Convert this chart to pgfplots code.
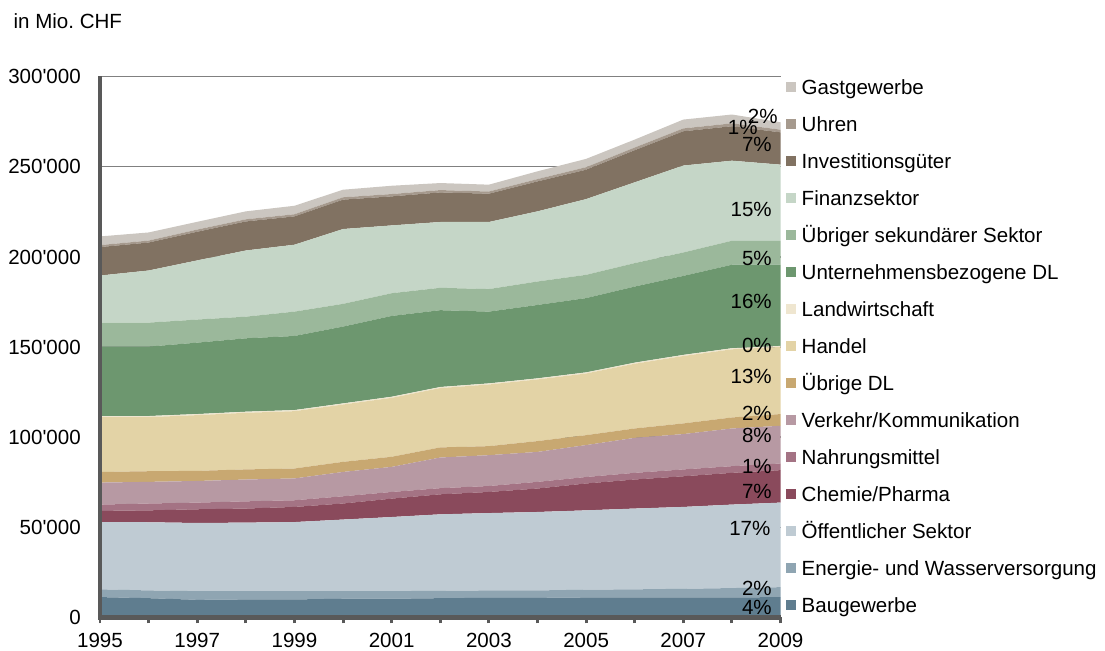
\documentclass[border=0pt]{standalone}
\usepackage{fontspec}
\setmainfont{Liberation Sans}[Ligatures=TeXOff]
\usepackage{pgfplots}
\usepackage{pgfplotstable}
\pgfplotsset{compat=1.18}

\newcommand{\fs}{\fontsize{15.4}{18}\selectfont}

\definecolor{axgray}{RGB}{89,89,89}
\definecolor{gridgray}{RGB}{128,128,128}
\definecolor{cBau}{RGB}{95,125,143}
\definecolor{cEner}{RGB}{143,165,178}
\definecolor{cOeff}{RGB}{191,203,211}
\definecolor{cChem}{RGB}{138,74,92}
\definecolor{cNahr}{RGB}{164,115,132}
\definecolor{cVerk}{RGB}{183,153,163}
\definecolor{cUdl}{RGB}{200,168,113}
\definecolor{cHand}{RGB}{227,211,166}
\definecolor{cLand}{RGB}{239,230,208}
\definecolor{cUntn}{RGB}{109,151,111}
\definecolor{cUsek}{RGB}{155,184,155}
\definecolor{cFina}{RGB}{197,214,199}
\definecolor{cInve}{RGB}{129,114,98}
\definecolor{cUhre}{RGB}{166,154,142}
\definecolor{cGast}{RGB}{203,198,192}

% Wertschoepfung nach Branchen, in Mio. CHF
\pgfplotstableread{
year bau  ener oeff  chem  nahr verk  udl  hand  land untn  usek  fina  inve  uhre gast
1995 11300 4300 37300 6200 3500 12200 5900 30400 600 38500 13300 26100 15800 1100 4800
1996 10700 4300 37800 6600 3800 12000 5900 30000 600 38500 13300 28900 15500 1100 4500
1997 9800  4800 37800 7600 3700 12000 5600 30900 600 39600 12800 32800 15900 1200 4300
1998 10000 4600 38000 7800 4000 12100 5600 31400 600 40700 12000 36700 16100 1200 4400
1999 10000 4600 38300 8400 3700 12100 5500 31800 600 41100 13500 37100 15700 1200 4700
2000 10400 4200 39700 8900 4000 13500 5600 31800 600 42600 12600 41500 16300 1300 4200
2001 10400 4200 41100 10200 3700 13900 5600 32700 600 44800 12600 37600 16100 1300 4600
2002 10700 4100 42400 11100 3400 17000 5600 32900 600 42600 12400 36500 16400 1300 3900
2003 10900 4100 42900 11700 3300 17100 5000 34200 600 39800 12500 37200 15700 1200 3800
2004 10900 4100 43500 13000 3700 16600 6000 34200 600 40700 13000 38900 16600 1300 4300
2005 11100 4300 44000 14900 3600 17700 5500 34200 600 41200 12900 42000 16300 1400 4600
2006 11100 4500 44800 16100 3700 19400 5200 35900 600 42200 13000 44800 17800 1500 4400
2007 11100 4800 45400 17000 3800 19600 5900 37400 600 43800 13000 48200 19000 1600 4900
2008 11100 5200 46300 17600 3700 20900 6100 37800 600 46300 13300 44400 19100 1600 4900
2009 11300 5500 46900 18000 3700 20900 6500 37200 600 45000 13300 42200 17900 1500 4100
}\data

\pgfplotsset{
  base/.style={scale only axis, width=510.4pt, height=405.75pt,
    xmin=1995, xmax=2009, ymin=0, ymax=300000, clip=false},
}

\begin{document}
\begin{tikzpicture}
\begin{axis}[
    base,
    stack plots=y,
    axis x line*=bottom, axis y line*=left,
    axis line style={line width=3.2pt, draw=axgray, -},
    xtick={1995,1997,...,2009},
    minor xtick={1996,1998,...,2008},
    tick align=outside,
    major tick length=4.5pt, minor tick length=4.5pt,
    xtick style={draw=axgray, line width=2.2pt},
    ytick style={draw=none},
    ytick={0,50000,...,300000},
    yticklabels={0,50'000,100'000,150'000,200'000,250'000,300'000},
    scaled y ticks=false,
    ymajorgrids,
    major grid style={draw=gridgray, line width=1.1pt},
    tick label style={font=\fs, inner sep=0pt, text height=11pt, text depth=0pt},
    xticklabel style={/pgf/number format/1000 sep={}, /pgf/number format/assume math mode=true},
    yticklabel style={anchor=east, xshift=-9.75pt},
    xticklabel style={anchor=north, yshift=-6.5pt},
    legend image code/.code={\fill[#1] (0pt,-3.75pt) rectangle (7.5pt,3.75pt);},
    reverse legend,
    legend cell align=left,
    legend style={at={(1,1)}, anchor=north west, xshift=4pt, yshift=-2.5pt,
        draw=none, fill=none, inner sep=0pt, row sep=16.75pt, column sep=4.2pt,
        font=\fs, nodes={inner sep=0pt, text height=11pt, text depth=0pt}},
]
\addplot[fill=cBau, draw=none] table[x=year, y=bau] {\data} \closedcycle;
\addlegendentry{Baugewerbe}
\addplot[fill=cEner, draw=none] table[x=year, y=ener] {\data} \closedcycle;
\addlegendentry{Energie- und Wasserversorgung}
\addplot[fill=cOeff, draw=none] table[x=year, y=oeff] {\data} \closedcycle;
\addlegendentry{Öffentlicher Sektor}
\addplot[fill=cChem, draw=none] table[x=year, y=chem] {\data} \closedcycle;
\addlegendentry{Chemie/Pharma}
\addplot[fill=cNahr, draw=none] table[x=year, y=nahr] {\data} \closedcycle;
\addlegendentry{Nahrungsmittel}
\addplot[fill=cVerk, draw=none] table[x=year, y=verk] {\data} \closedcycle;
\addlegendentry{Verkehr/Kommunikation}
\addplot[fill=cUdl, draw=none] table[x=year, y=udl] {\data} \closedcycle;
\addlegendentry{Übrige DL}
\addplot[fill=cHand, draw=none] table[x=year, y=hand] {\data} \closedcycle;
\addlegendentry{Handel}
\addplot[fill=cLand, draw=none] table[x=year, y=land] {\data} \closedcycle;
\addlegendentry{Landwirtschaft}
\addplot[fill=cUntn, draw=none] table[x=year, y=untn] {\data} \closedcycle;
\addlegendentry{Unternehmensbezogene DL}
\addplot[fill=cUsek, draw=none] table[x=year, y=usek] {\data} \closedcycle;
\addlegendentry{Übriger sekundärer Sektor}
\addplot[fill=cFina, draw=none] table[x=year, y=fina] {\data} \closedcycle;
\addlegendentry{Finanzsektor}
\addplot[fill=cInve, draw=none] table[x=year, y=inve] {\data} \closedcycle;
\addlegendentry{Investitionsgüter}
\addplot[fill=cUhre, draw=none] table[x=year, y=uhre] {\data} \closedcycle;
\addlegendentry{Uhren}
\addplot[fill=cGast, draw=none] table[x=year, y=gast] {\data} \closedcycle;
\addlegendentry{Gastgewerbe}
\end{axis}

% zweite, leere Achse fuer Achsenlinien und Anteile im Vordergrund
\begin{axis}[base, hide axis]
\draw[axgray, line width=3.2pt] (rel axis cs:0,1) -- (rel axis cs:0,0) -- (rel axis cs:1,0);
\node[font=\fs, inner sep=0pt, anchor=east, xshift=-6.4pt] at (axis cs:2009,5700) {4\%};
\node[font=\fs, inner sep=0pt, anchor=east, xshift=-6.4pt] at (axis cs:2009,15900) {2\%};
\node[font=\fs, inner sep=0pt, anchor=east, xshift=-7.4pt] at (axis cs:2009,49300) {17\%};
\node[font=\fs, inner sep=0pt, anchor=east, xshift=-6.4pt] at (axis cs:2009,70000) {7\%};
\node[font=\fs, inner sep=0pt, anchor=east, xshift=-6.4pt] at (axis cs:2009,83900) {1\%};
\node[font=\fs, inner sep=0pt, anchor=east, xshift=-6.4pt] at (axis cs:2009,101100) {8\%};
\node[font=\fs, inner sep=0pt, anchor=east, xshift=-6.4pt] at (axis cs:2009,113200) {2\%};
\node[font=\fs, inner sep=0pt, anchor=east, xshift=-6.4pt] at (axis cs:2009,133500) {13\%};
\node[font=\fs, inner sep=0pt, anchor=east, xshift=-6.4pt] at (axis cs:2009,150800) {0\%};
\node[font=\fs, inner sep=0pt, anchor=east, xshift=-6.4pt] at (axis cs:2009,175200) {16\%};
\node[font=\fs, inner sep=0pt, anchor=east, xshift=-6.4pt] at (axis cs:2009,199300) {5\%};
\node[font=\fs, inner sep=0pt, anchor=east, xshift=-6.4pt] at (axis cs:2009,226100) {15\%};
\node[font=\fs, inner sep=0pt, anchor=east, xshift=-6.4pt] at (axis cs:2009,262200) {7\%};
\node[font=\fs, inner sep=0pt, anchor=east, xshift=-17pt] at (axis cs:2009,271500) {1\%};
\node[font=\fs, inner sep=0pt, anchor=east, xshift=-2pt] at (axis cs:2009,277900) {2\%};
\end{axis}
\node[anchor=base west, font=\fs, inner sep=0pt] at (-65pt,441.6pt) {in Mio.\ CHF};
\pgfresetboundingbox
\path (-75pt,-25.1pt) rectangle (753.75pt,463.1pt);
\end{tikzpicture}
\end{document}
